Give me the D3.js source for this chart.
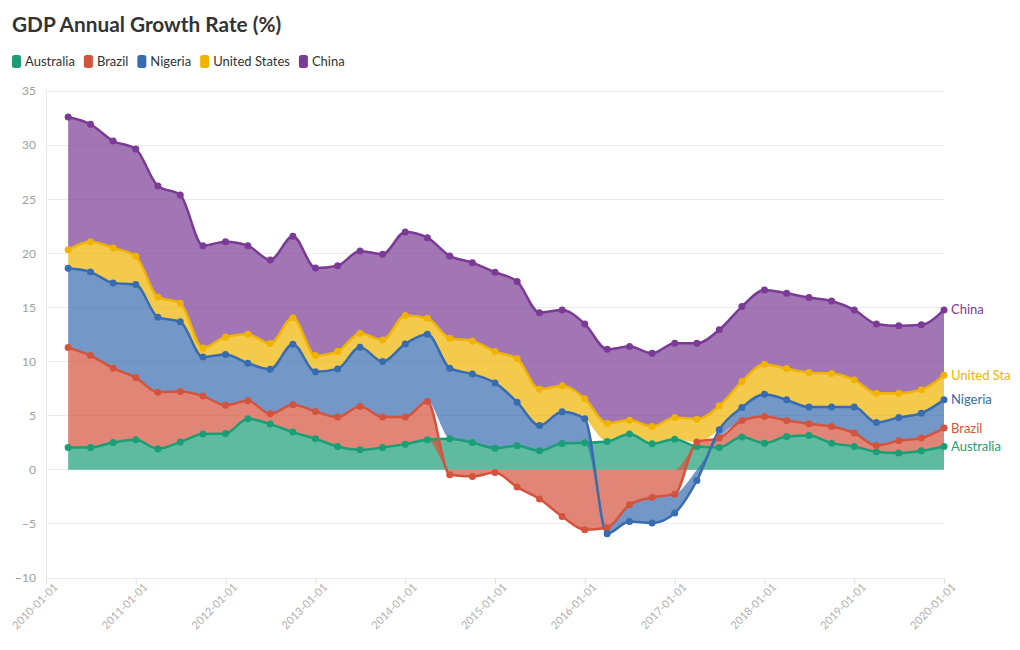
<!DOCTYPE html>
<html><head><meta charset="utf-8">
<script src="https://cdn.jsdelivr.net/npm/d3@7"></script>
<style>
body{margin:0;background:#fff;}
svg{display:block;font-family:Lato,"Source Sans Pro",sans-serif;}
</style></head><body>
<svg id="chart" width="1010" height="650"></svg>
<script>
const dates = ["2010-04-01","2010-07-01","2010-10-01",
"2011-01-01","2011-04-01","2011-07-01","2011-10-01",
"2012-01-01","2012-04-01","2012-07-01","2012-10-01",
"2013-01-01","2013-04-01","2013-07-01","2013-10-01",
"2014-01-01","2014-04-01","2014-07-01","2014-10-01",
"2015-01-01","2015-04-01","2015-07-01","2015-10-01",
"2016-01-01","2016-04-01","2016-07-01","2016-10-01",
"2017-01-01","2017-04-01","2017-07-01","2017-10-01",
"2018-01-01","2018-04-01","2018-07-01","2018-10-01",
"2019-01-01","2019-04-01","2019-07-01","2019-10-01",
"2020-01-01"];
const australia = [2.06,2.06,2.52,2.77,1.94,2.56,3.30,3.35,4.71,4.22,3.48,2.86,2.15,1.85,2.06,2.37,2.77,2.86,2.52,2.00,2.22,1.75,2.43,2.49,2.61,3.30,2.40,2.83,2.15,2.06,3.02,2.46,3.08,3.17,2.46,2.15,1.66,1.54,1.75,2.15];
const brazil = [9.23,8.49,6.87,5.75,5.23,4.67,3.51,2.62,1.66,0.95,2.52,2.52,2.72,4.00,2.81,2.50,3.54,-0.46,-0.62,-0.25,-1.60,-2.70,-4.31,-5.54,-5.35,-3.23,-2.56,-2.25,0.41,0.87,1.53,2.46,1.47,1.08,1.54,1.24,0.59,1.14,1.18,1.70];
const nigeria = [7.33,7.73,7.88,8.59,6.93,6.44,3.60,4.68,3.48,4.13,5.61,3.67,4.45,5.48,5.13,6.76,6.22,6.53,6.32,6.03,4.03,2.34,2.93,2.22,-0.55,-1.54,-2.36,-1.75,-0.99,0.76,1.20,2.07,1.91,1.54,1.79,2.40,2.12,2.15,2.30,2.61];
const unitedStates = [1.72,2.80,3.23,2.62,1.87,1.72,0.85,1.63,2.68,2.36,2.43,1.50,1.62,1.29,2.00,2.62,1.48,2.77,3.07,2.89,4.00,3.36,2.40,1.85,1.70,1.28,1.60,2.00,2.12,2.22,2.40,2.77,2.89,3.19,3.10,2.52,2.71,2.25,2.16,2.28];
const china = [12.25,10.84,9.88,9.91,10.25,10.00,9.45,8.80,8.18,7.73,7.54,8.10,7.92,7.60,7.92,7.73,7.44,7.60,7.23,7.33,7.14,7.07,7.01,6.92,6.82,6.80,6.77,6.87,7.02,7.02,6.93,6.86,6.96,6.93,6.71,6.46,6.40,6.22,6.00,6.03];
const seriesNames = ["Australia","Brazil","Nigeria","United States","China"];
const seriesValues = [australia, brazil, nigeria, unitedStates, china];
const colors = ["#1a9e76","#d4533c","#386cb0","#f0b400","#7b3a96"];
const yTicks = [-10,-5,0,5,10,15,20,25,30,35];
const xTickLabels = ["2010-01-01","2011-01-01","2012-01-01","2013-01-01","2014-01-01","2015-01-01","2016-01-01","2017-01-01","2018-01-01","2019-01-01","2020-01-01"];

const parse = d3.utcParse("%Y-%m-%d");
const rows = dates.map((d,i)=>{
  const r = {date: parse(d)};
  seriesNames.forEach((n,k)=>{ r[n] = seriesValues[k][i]; });
  return r;
});

const svg = d3.select("#chart");
const L = 46, R = 944, T = 91, B = 578;
const x = d3.scaleUtc().domain([parse(xTickLabels[0]), parse(xTickLabels[xTickLabels.length-1])]).range([L, R]);
const y = d3.scaleLinear().domain([-10, 35]).range([B, T]);

// title
svg.append("text").attr("x",12).attr("y",32).attr("font-size",20.8).attr("font-weight",700)
  .attr("fill","#333").text("GDP Annual Growth Rate (%)");

// legend
let lx = 12;
seriesNames.forEach((n,k)=>{
  const g = svg.append("g").attr("transform",`translate(${lx},0)`);
  g.append("rect").attr("x",0).attr("y",55).attr("width",9).attr("height",13).attr("rx",2.5).attr("fill",colors[k]);
  const t = g.append("text").attr("x",13).attr("y",66).attr("font-size",13).attr("fill","#333").text(n);
  lx += 13 + t.node().getComputedTextLength() + 9;
});

// grid
const grid = svg.append("g");
grid.selectAll("line.h").data(yTicks).join("line")
  .attr("x1",L).attr("x2",R).attr("y1",d=>y(d)).attr("y2",d=>y(d))
  .attr("stroke","#ebebeb").attr("stroke-width",1).attr("shape-rendering","crispEdges");
grid.append("line").attr("x1",L).attr("x2",L).attr("y1",T-2).attr("y2",B)
  .attr("stroke","#ebebeb").attr("shape-rendering","crispEdges");

// y axis labels
const yAxis = d3.axisLeft(y).tickValues(yTicks).tickSize(0).tickPadding(10);
const yg = svg.append("g").attr("transform",`translate(${L},0)`).call(yAxis);
yg.select(".domain").remove();
yg.selectAll("text").attr("font-size",12).attr("fill","#a0a0a0").attr("font-family","Lato");

// x axis
const xAxis = d3.axisBottom(x).tickValues(xTickLabels.map(parse)).tickSize(6).tickFormat(d3.utcFormat("%Y-%m-%d"));
const xg = svg.append("g").attr("transform",`translate(0,${B})`).call(xAxis);
xg.select(".domain").attr("stroke","#ebebeb");
xg.selectAll(".tick line").attr("stroke","#e0e0e0");
xg.selectAll("text").attr("font-size",11).attr("fill","#b0b0b0").attr("font-family","Lato")
  .attr("text-anchor","end").attr("transform","translate(5,3) rotate(-45)").attr("dy","0.9em").attr("y",0).attr("x",0);

// stack (diverging); for negative values the far edge is d[0]
const stack = d3.stack().keys(seriesNames).offset(d3.stackOffsetDiverging);
const stacked = stack(rows);
const topOf = (d,key)=> d.data[key] < 0 ? d[0] : d[1];
const baseOf = (d,key)=> d.data[key] < 0 ? d[1] : d[0];

const areasG = svg.append("g"), linesG = svg.append("g"), dotsG = svg.append("g"), labelsG = svg.append("g");
stacked.forEach((s,k)=>{
  const key = s.key;
  const area = d3.area().x(d=>x(d.data.date)).y0(d=>y(baseOf(d,key))).y1(d=>y(topOf(d,key))).curve(d3.curveMonotoneX);
  const line = d3.line().x(d=>x(d.data.date)).y(d=>y(topOf(d,key))).curve(d3.curveMonotoneX);
  areasG.append("path").attr("d",area(s)).attr("fill",colors[k]).attr("fill-opacity",0.7);
  linesG.append("path").attr("d",line(s)).attr("fill","none").attr("stroke",colors[k]).attr("stroke-width",2.5);
  dotsG.append("g").selectAll("circle").data(s).join("circle")
    .attr("cx",d=>x(d.data.date)).attr("cy",d=>y(topOf(d,key))).attr("r",3.5).attr("fill",colors[k]);
  const last = s[s.length-1];
  labelsG.append("text").attr("x",x(last.data.date)+7).attr("y",y(topOf(last,key))).attr("dy","0.35em")
    .attr("font-size",13).attr("fill",colors[k]).text(seriesNames[k]);
});
</script></body></html>
